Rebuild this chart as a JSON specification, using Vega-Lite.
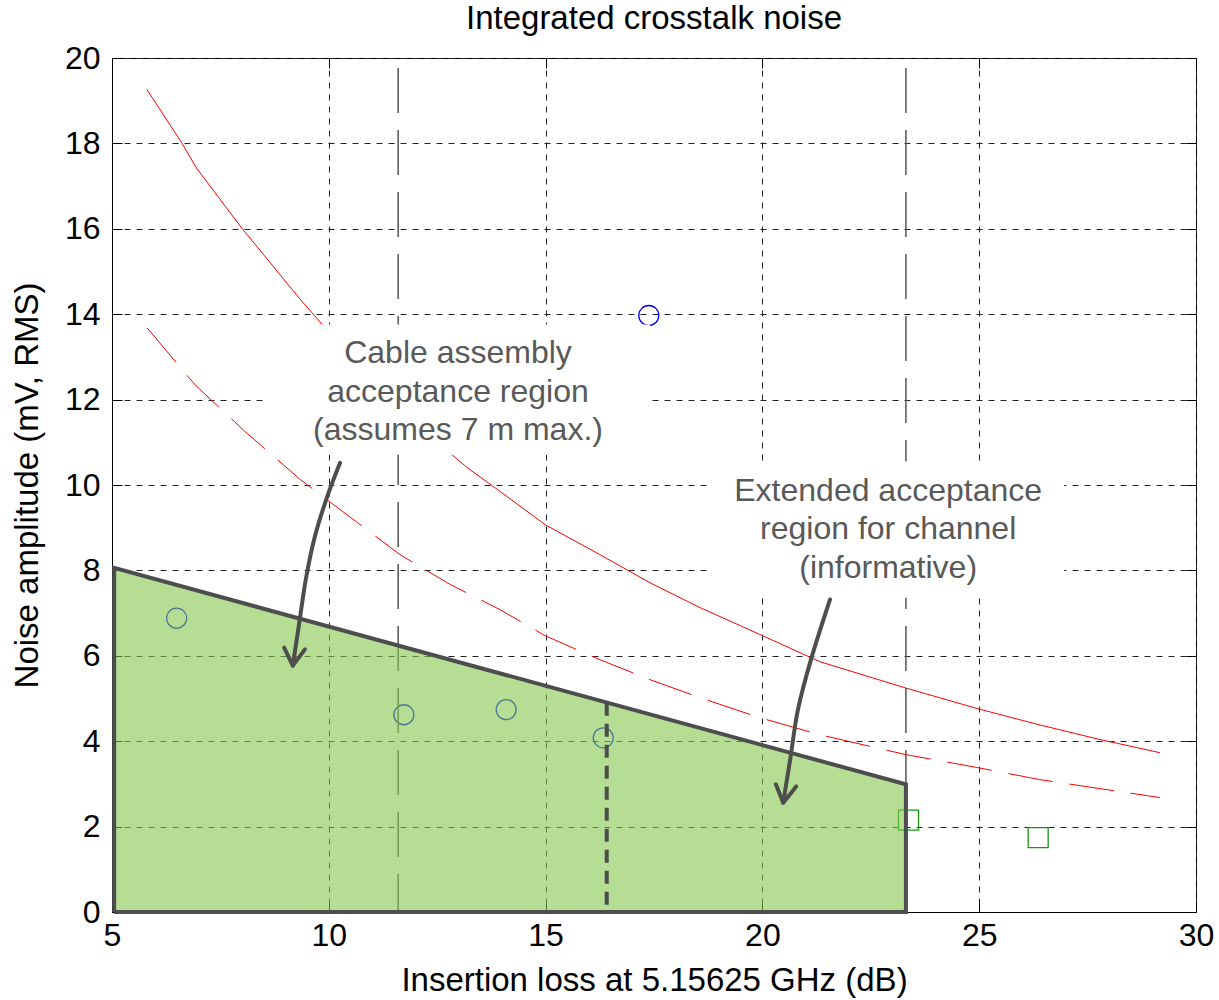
{
  "$schema": "https://vega.github.io/schema/vega-lite/v6.json",
  "autosize": "none",
  "padding": {"left": 112, "top": 58, "right": 23, "bottom": 88},
  "width": 1084,
  "height": 854,
  "background": "white",
  "title": {"text": "Integrated crosstalk noise", "font": "Liberation Sans", "fontSize": 33, "fontWeight": "normal", "color": "black", "baseline": "alphabetic", "offset": -20},
  "config": {
    "view": {"stroke": "black", "strokeWidth": 1},
    "axis": {
      "labelFont": "Liberation Sans", "titleFont": "Liberation Sans",
      "labelFontSize": 32, "titleFontSize": 33, "titleFontWeight": "normal",
      "labelColor": "black", "titleColor": "black", "tickColor": "black", "domainColor": "black",
      "gridColor": "#222222", "gridDash": [6, 6], "gridOpacity": 1, "gridWidth": 1,
      "labelFlush": false, "labelOverlap": false
    }
  },
  "datasets": {
    "solid": [
      {"x": 5.80, "y": 19.27}, {"x": 6.61, "y": 18.01}, {"x": 6.95, "y": 17.42}, {"x": 7.99, "y": 16.02},
      {"x": 9.34, "y": 14.35}, {"x": 10.5, "y": 13.0}, {"x": 11.5, "y": 11.95}, {"x": 12.5, "y": 11.0},
      {"x": 13.2, "y": 10.4}, {"x": 13.95, "y": 9.85}, {"x": 14.99, "y": 9.07}, {"x": 16.25, "y": 8.37},
      {"x": 17.41, "y": 7.71}, {"x": 18.56, "y": 7.13}, {"x": 19.94, "y": 6.50}, {"x": 21.33, "y": 5.86},
      {"x": 23.29, "y": 5.25}, {"x": 24.97, "y": 4.76}, {"x": 26.40, "y": 4.38}, {"x": 27.78, "y": 4.04},
      {"x": 29.17, "y": 3.73}
    ],
    "dashed": [
      {"x": 5.81, "y": 13.68}, {"x": 6.91, "y": 12.35}, {"x": 8.07, "y": 11.25}, {"x": 9.34, "y": 10.13},
      {"x": 11.64, "y": 8.37}, {"x": 12.80, "y": 7.67}, {"x": 13.95, "y": 7.08}, {"x": 14.99, "y": 6.47},
      {"x": 16.25, "y": 5.91}, {"x": 17.41, "y": 5.44}, {"x": 18.56, "y": 5.02}, {"x": 19.94, "y": 4.55},
      {"x": 21.33, "y": 4.15}, {"x": 23.29, "y": 3.69}, {"x": 24.97, "y": 3.38}, {"x": 26.40, "y": 3.10},
      {"x": 27.78, "y": 2.89}, {"x": 29.17, "y": 2.68}
    ],
    "circles": [
      {"x": 6.49, "y": 6.88}, {"x": 11.73, "y": 4.62}, {"x": 14.09, "y": 4.74}, {"x": 16.33, "y": 4.08}, {"x": 17.38, "y": 13.97}
    ],
    "squares": [
      {"x": 23.37, "y": 2.15}, {"x": 26.36, "y": 1.74}
    ],
    "vlines": [{"x": 11.60}, {"x": 23.31}],
    "region": [{"x": 5.05, "y": 8.06}, {"x": 23.31, "y": 2.99}],
    "outline": [
      {"i": 0, "x": 5.05, "y": 0}, {"i": 1, "x": 5.05, "y": 8.06}, {"i": 2, "x": 23.31, "y": 2.99},
      {"i": 3, "x": 23.31, "y": 0}, {"i": 4, "x": 5.05, "y": 0}
    ],
    "limit": [{"x": 16.41, "y": 4.9, "y2": 0}],
    "boxes": [
      {"x": 8.53, "x2": 17.41, "y": 13.76, "y2": 10.71},
      {"x": 18.79, "x2": 26.96, "y": 10.55, "y2": 7.36}
    ],
    "labels": [
      {"x": 12.98, "y": 13.08, "text": "Cable assembly\nacceptance region\n(assumes 7 m max.)"},
      {"x": 22.90, "y": 9.87, "text": "Extended acceptance\nregion for channel\n(informative)"}
    ],
    "curves": [
      {"g": "a1", "i": 0, "x": 10.26, "y": 10.52}, {"g": "a1", "i": 1, "x": 9.94, "y": 9.66},
      {"g": "a1", "i": 2, "x": 9.66, "y": 8.72}, {"g": "a1", "i": 3, "x": 9.47, "y": 7.79},
      {"g": "a1", "i": 4, "x": 9.33, "y": 6.85}, {"g": "a1", "i": 5, "x": 9.17, "y": 5.77},
      {"g": "a2", "i": 0, "x": 21.56, "y": 7.32}, {"g": "a2", "i": 1, "x": 21.12, "y": 5.91},
      {"g": "a2", "i": 2, "x": 20.82, "y": 4.74}, {"g": "a2", "i": 3, "x": 20.64, "y": 3.57},
      {"g": "a2", "i": 4, "x": 20.48, "y": 2.56}
    ],
    "heads": [
      {"g": "h1", "i": 0, "x": 8.97, "y": 6.19}, {"g": "h1", "i": 1, "x": 9.17, "y": 5.77},
      {"g": "h1", "i": 2, "x": 9.45, "y": 6.15},
      {"g": "h2", "i": 0, "x": 20.31, "y": 2.99}, {"g": "h2", "i": 1, "x": 20.48, "y": 2.56},
      {"g": "h2", "i": 2, "x": 20.78, "y": 2.94}
    ]
  },
  "resolve": {"axis": {"x": "independent", "y": "independent"}},
  "layer": [
    {
      "data": {"name": "solid"},
      "mark": {"type": "line", "color": "#ff0000", "strokeWidth": 1},
      "encoding": {
        "x": {"field": "x", "type": "quantitative", "scale": {"domain": [5, 30], "nice": false, "zero": false},
              "axis": {"orient": "bottom", "values": [5, 10, 15, 20, 25, 30], "tickSize": -10, "labelPadding": 18, "title": "Insertion loss at 5.15625 GHz (dB)", "titlePadding": 13, "grid": true}},
        "y": {"field": "y", "type": "quantitative", "scale": {"domain": [0, 20], "nice": false},
              "axis": {"orient": "left", "values": [0, 2, 4, 6, 8, 10, 12, 14, 16, 18, 20], "tickSize": -10, "labelPadding": 22, "title": "Noise amplitude (mV, RMS)", "titlePadding": 20, "grid": true}}
      }
    },
    {
      "data": {"name": "dashed"},
      "mark": {"type": "line", "color": "#ff0000", "strokeWidth": 1, "strokeDash": [45, 17]},
      "encoding": {
        "x": {"field": "x", "type": "quantitative",
              "axis": {"orient": "top", "values": [5, 10, 15, 20, 25, 30], "tickSize": -10, "labels": false, "domain": false, "grid": false, "title": null}},
        "y": {"field": "y", "type": "quantitative",
              "axis": {"orient": "right", "values": [0, 2, 4, 6, 8, 10, 12, 14, 16, 18, 20], "tickSize": -10, "labels": false, "domain": false, "grid": false, "title": null}}
      }
    },
    {
      "data": {"name": "circles"},
      "mark": {"type": "point", "shape": "circle", "filled": false, "stroke": "#0000ff", "strokeWidth": 1.3, "size": 400, "opacity": 1},
      "encoding": {
        "x": {"field": "x", "type": "quantitative", "axis": null},
        "y": {"field": "y", "type": "quantitative", "axis": null}
      }
    },
    {
      "data": {"name": "squares"},
      "mark": {"type": "point", "shape": "square", "filled": false, "stroke": "#159615", "strokeWidth": 1.3, "size": 400, "opacity": 1},
      "encoding": {
        "x": {"field": "x", "type": "quantitative", "axis": null},
        "y": {"field": "y", "type": "quantitative", "axis": null}
      }
    },
    {
      "data": {"name": "vlines"},
      "mark": {"type": "rule", "color": "#555555", "strokeWidth": 1.5, "strokeDash": [45, 17], "strokeDashOffset": 52},
      "encoding": {
        "x": {"field": "x", "type": "quantitative", "axis": null}
      }
    },
    {
      "data": {"name": "region"},
      "mark": {"type": "area", "color": "#84c84c", "opacity": 0.6},
      "encoding": {
        "x": {"field": "x", "type": "quantitative", "axis": null},
        "y": {"field": "y", "type": "quantitative", "axis": null}
      }
    },
    {
      "data": {"name": "outline"},
      "mark": {"type": "line", "color": "#4d4d4d", "strokeWidth": 4, "strokeJoin": "miter"},
      "encoding": {
        "x": {"field": "x", "type": "quantitative", "axis": null},
        "y": {"field": "y", "type": "quantitative", "axis": null},
        "order": {"field": "i", "type": "quantitative"}
      }
    },
    {
      "data": {"name": "limit"},
      "mark": {"type": "rule", "color": "#4d4d4d", "strokeWidth": 4, "strokeDash": [13, 8]},
      "encoding": {
        "x": {"field": "x", "type": "quantitative", "axis": null},
        "y": {"field": "y", "type": "quantitative", "axis": null},
        "y2": {"field": "y2"}
      }
    },
    {
      "data": {"name": "boxes"},
      "mark": {"type": "rect", "color": "white", "opacity": 1},
      "encoding": {
        "x": {"field": "x", "type": "quantitative", "axis": null},
        "x2": {"field": "x2"},
        "y": {"field": "y", "type": "quantitative", "axis": null},
        "y2": {"field": "y2"}
      }
    },
    {
      "data": {"name": "labels"},
      "mark": {"type": "text", "font": "Liberation Sans", "fontSize": 32, "color": "#595959", "align": "center", "baseline": "middle", "lineBreak": "\n", "lineHeight": 38.5},
      "encoding": {
        "x": {"field": "x", "type": "quantitative", "axis": null},
        "y": {"field": "y", "type": "quantitative", "axis": null},
        "text": {"field": "text"}
      }
    },
    {
      "data": {"name": "curves"},
      "mark": {"type": "line", "color": "#4d4d4d", "strokeWidth": 4, "strokeCap": "round", "interpolate": "cardinal"},
      "encoding": {
        "x": {"field": "x", "type": "quantitative", "axis": null},
        "y": {"field": "y", "type": "quantitative", "axis": null},
        "detail": {"field": "g"},
        "order": {"field": "i", "type": "quantitative"}
      }
    },
    {
      "data": {"name": "heads"},
      "mark": {"type": "line", "color": "#4d4d4d", "strokeWidth": 4, "strokeCap": "round", "strokeJoin": "round", "interpolate": "linear"},
      "encoding": {
        "x": {"field": "x", "type": "quantitative", "axis": null},
        "y": {"field": "y", "type": "quantitative", "axis": null},
        "detail": {"field": "g"},
        "order": {"field": "i", "type": "quantitative"}
      }
    }
  ]
}
